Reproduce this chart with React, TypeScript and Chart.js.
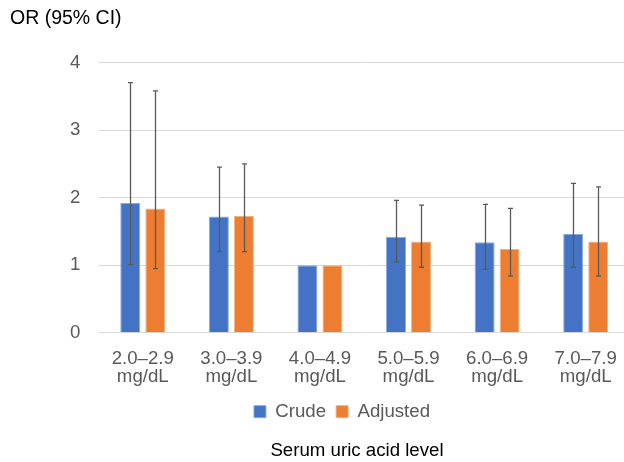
import React, { useEffect, useRef } from 'react';
import { Chart, registerables } from 'chart.js';

Chart.register(...registerables);

const categories: string[][] = [
  ['2.0–2.9', 'mg/dL'],
  ['3.0–3.9', 'mg/dL'],
  ['4.0–4.9', 'mg/dL'],
  ['5.0–5.9', 'mg/dL'],
  ['6.0–6.9', 'mg/dL'],
  ['7.0–7.9', 'mg/dL'],
];
const crude = [1.92, 1.72, 1.0, 1.42, 1.34, 1.46];
const crudeLow = [1.01, 1.2, null, 1.05, 0.94, 0.97];
const crudeHigh = [3.7, 2.45, null, 1.96, 1.9, 2.21];
const adjusted = [1.84, 1.73, 1.0, 1.35, 1.24, 1.35];
const adjustedLow = [0.95, 1.2, null, 0.97, 0.84, 0.84];
const adjustedHigh = [3.58, 2.5, null, 1.89, 1.84, 2.16];
const yMin = 0;
const yMax = 4;
const yStep = 1;
const yTitle = 'OR (95% CI)';
const xTitle = 'Serum uric acid level';
const seriesNames = ['Crude', 'Adjusted'];

const FONT = "'Liberation Sans', Arial, sans-serif";

export default function App() {
  const ref = useRef<HTMLCanvasElement>(null);

  useEffect(() => {
    if (!ref.current) return;
    const lows = [crudeLow, adjustedLow];
    const highs = [crudeHigh, adjustedHigh];

    const errorBars = {
      id: 'errorBars',
      afterDatasetsDraw(chart: any) {
        const ctx = chart.ctx;
        const ys = chart.scales.y;
        ctx.save();
        ctx.strokeStyle = '#5a5a5a';
        ctx.lineWidth = 1.3;
        chart.data.datasets.forEach((_ds: any, i: number) => {
          const meta = chart.getDatasetMeta(i);
          meta.data.forEach((el: any, j: number) => {
            const lo = lows[i][j];
            const hi = highs[i][j];
            if (lo == null || hi == null) return;
            const x = Math.round(el.x) + 0.5;
            const y1 = ys.getPixelForValue(lo);
            const y2 = ys.getPixelForValue(hi);
            ctx.beginPath();
            ctx.moveTo(x, y1);
            ctx.lineTo(x, y2);
            ctx.moveTo(x - 2.5, y1);
            ctx.lineTo(x + 2.5, y1);
            ctx.moveTo(x - 2.5, y2);
            ctx.lineTo(x + 2.5, y2);
            ctx.stroke();
          });
        });
        ctx.restore();
      },
    };

    const shiftBoxes = {
      id: 'shiftBoxes',
      afterLayout(chart: any) {
        const lg = chart.legend;
        if (lg) {
          lg.left += 22;
          lg.right += 22;
        }
        chart.boxes.forEach((b: any) => {
          if (b.options && b.options.text === xTitle) {
            b.left += 37;
            b.right += 37;
          }
        });
      },
    };

    const chart = new Chart(ref.current, {
      type: 'bar',
      data: {
        labels: categories,
        datasets: [
          {
            label: seriesNames[0],
            data: crude,
            backgroundColor: '#4472C4',
            borderColor: '#8eaadb',
            borderWidth: 1,
          },
          {
            label: seriesNames[1],
            data: adjusted,
            backgroundColor: '#ED7D31',
            borderColor: '#f4b183',
            borderWidth: 1,
          },
        ],
      },
      options: {
        responsive: false,
        animation: false,
        layout: { padding: { left: 10, right: 10, top: 0, bottom: 0 } },
        datasets: {
          bar: { categoryPercentage: 0.565, barPercentage: 0.8 },
        },
        scales: {
          x: {
            grid: { display: false, drawTicks: false },
            border: { display: false },
            ticks: {
              color: '#595959',
              font: { family: FONT, size: 18.67, lineHeight: 0.98 },
              padding: 16.5,
              maxRotation: 0,
              autoSkip: false,
            },
            afterFit: (scale: any) => {
              scale.height = 59.5;
            },
          },
          y: {
            min: yMin,
            max: yMax,
            grid: { color: '#d9d9d9', lineWidth: 1, drawTicks: false },
            border: { display: false },
            ticks: {
              stepSize: yStep,
              color: '#595959',
              font: { family: FONT, size: 18.67 },
              padding: 18,
            },
            afterFit: (scale: any) => {
              scale.width = 88.5;
            },
          },
        },
        plugins: {
          title: {
            display: true,
            text: yTitle,
            align: 'start',
            color: '#000000',
            font: { family: FONT, size: 19.5, weight: 'normal', lineHeight: 1.2 },
            padding: { top: 7, bottom: 32 },
          },
          subtitle: {
            display: true,
            text: xTitle,
            position: 'bottom',
            color: '#000000',
            font: { family: FONT, size: 18.67, weight: 'normal', lineHeight: 1.2 },
            padding: { top: 8.6, bottom: 0 },
          },
          legend: {
            display: true,
            position: 'bottom',
            labels: {
              color: '#595959',
              font: { family: FONT, size: 18.67 },
              boxWidth: 12,
              boxHeight: 12,
              padding: 10,
            },
          },
          tooltip: { enabled: false },
        },
      } as any,
      plugins: [errorBars, shiftBoxes],
    });

    return () => chart.destroy();
  }, []);

  return (
    <div
      style={{
        position: 'fixed',
        left: 0,
        top: 0,
        width: 624,
        height: 462,
        overflow: 'hidden',
        background: '#ffffff',
      }}
    >
      <canvas ref={ref} width={640} height={462} style={{ display: 'block' }} />
    </div>
  );
}
